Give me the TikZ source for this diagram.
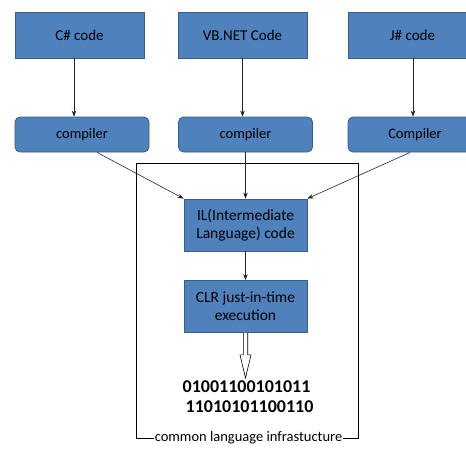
\documentclass[tikz,border=0pt]{standalone}
\usepackage{fontspec}
\setmainfont{Carlito}
\usetikzlibrary{arrows.meta,calc}
\definecolor{boxblue}{HTML}{4F81BD}
\definecolor{boxedge}{HTML}{385D8A}
\tikzset{
  srcbox/.style={draw=boxedge, fill=boxblue, line width=0.8pt, minimum width=129pt, minimum height=46pt, inner sep=0pt, font=\fontsize{15}{17}\selectfont},
  compbox/.style={srcbox, rounded corners=5pt, minimum width=134pt, minimum height=35pt, font=\fontsize{14.5}{17}\selectfont},
  corebox/.style={srcbox, minimum width=123pt, minimum height=52pt, align=center, font=\fontsize{15.5}{18}\selectfont},
  flow/.style={draw=black!85, line width=0.6pt, -{Stealth[length=6pt,width=4.5pt]}}
}
\begin{document}
\begin{tikzpicture}[x=1pt,y=-1pt]
  \useasboundingbox (0,0) rectangle (466,451);
  \fill[white] (0,0) rectangle (466,451);

  % source languages
  \node[srcbox] (cs) at (79.5,35) {C\# code};
  \node[srcbox] (vb) at (242.5,35) {VB.NET Code};
  \node[srcbox] (js) at (412.5,35) {J\# code};

  % compilers
  \node[compbox] (ccs) at (82,134.5) {compiler};
  \node[compbox] (cvb) at (245.5,134.5) {compiler};
  \node[compbox] (cjs) at (415,134.5) {Compiler};

  % runtime part
  \node[corebox] (il) at (245.5,225) {IL(Intermediate\\Language) code};
  \node[corebox] (clr) at (245.5,306.5) {CLR just-in-time\\execution};

  \node[font=\fontsize{18}{21}\bfseries\selectfont, align=center, inner sep=0pt] (bin) at (246.5,397)
    {01001100101011\\[-1pt]\hspace*{6pt}11010101100110};

  % frame of the common language infrastructure
  \draw[line width=0.7pt] (136,163) rectangle (358,438);
  \node[fill=white, inner sep=1pt, font=\fontsize{14.5}{16}\selectfont] (cli) at (248.5,438) {common language infrastucture};

  % connectors
  \draw[flow] (cs.south -| 74,0) -- (ccs.north -| 74,0);
  \draw[flow] (vb.south) -- (cvb.north -| vb.south);
  \draw[flow] (js.south -| 413,0) -- (cjs.north -| 413,0);
  \draw[flow] (ccs.south -| 97,0) -- (il.north west);
  \draw[flow] (cvb.south -| il.north) -- (il.north);
  \draw[flow] (cjs.south -| 410,0) -- (il.north east);
  \draw[flow] (il.south) -- (clr.north);

  % hollow block arrow to machine code
  \draw[line width=0.6pt, fill=white]
    ($(clr.south)+(-2.2,0)$) -- ++(0,22) -- ++(-3.3,0) -- ($(clr.south)+(0,45)$)
    -- ($(clr.south)+(5.5,22)$) -- ++(-3.3,0) -- ($(clr.south)+(2.2,0)$);
\end{tikzpicture}
\end{document}
